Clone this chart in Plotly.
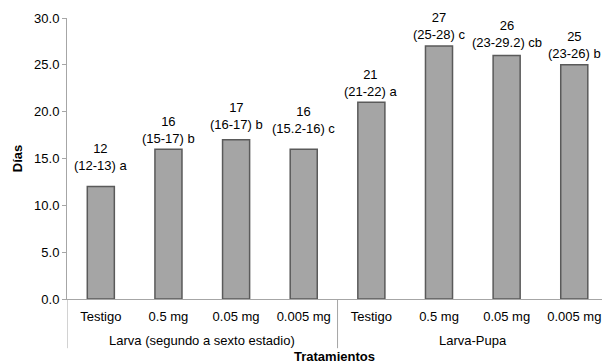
import plotly.graph_objects as go

# ---- data ----
categories = ["Testigo", "0.5 mg", "0.05 mg", "0.005 mg",
              "Testigo", "0.5 mg", "0.05 mg", "0.005 mg"]
groups = ["Larva (segundo a sexto estadio)", "Larva-Pupa"]
group_sizes = [4, 4]
dias = [12, 16, 17, 16, 21, 27, 26, 25]
ranges = ["(12-13)", "(15-17)", "(16-17)", "(15.2-16)",
          "(21-22)", "(25-28)", "(23-29.2)", "(23-26)"]
letters = ["a", "b", "b", "c", "a", "c", "cb", "b"]
y_ticks = [0, 5, 10, 15, 20, 25, 30]

# ---- styling ----
label_lift = [12, 1, 6, 11, 1, 2, 3, 2]   # px offsets of value labels (as placed in the source)
FONT = "Liberation Sans, Arial, sans-serif"
AXIS_COLOR = "#A6A6A6"

x = list(range(len(categories)))

fig = go.Figure()
fig.add_trace(go.Bar(
    x=x, y=dias, width=0.4,
    marker=dict(color="#A5A5A5", line=dict(color="#5A5A5A", width=1.5)),
    hoverinfo="skip", cliponaxis=False,
))

annotations = []
for i, (v, r, l) in enumerate(zip(dias, ranges, letters)):
    annotations.append(dict(
        x=x[i], y=v, xref="x", yref="y",
        text=f"{v}<br>{r} {l}", showarrow=False,
        yanchor="bottom", yshift=label_lift[i],
        font=dict(family=FONT, size=13, color="#000000"),
    ))

# group labels and separators
start = 0
shapes = []
for g, n in zip(groups, group_sizes):
    center = start + (n - 1) / 2
    annotations.append(dict(
        x=center, y=-0.148, xref="x", yref="paper",
        text=g, showarrow=False, yanchor="middle",
        font=dict(family=FONT, size=13, color="#000000"),
    ))
    b = start - 0.5
    shapes.append(dict(type="line", xref="x", yref="paper",
                       x0=b, x1=b, y0=0, y1=-0.175,
                       line=dict(color=AXIS_COLOR, width=1)))
    start += n

annotations.append(dict(
    x=0.5, y=-0.203, xref="paper", yref="paper",
    text="<b>Tratamientos</b>", showarrow=False, yanchor="middle",
    font=dict(family=FONT, size=13, color="#000000"),
))

fig.update_layout(
    width=602, height=364,
    margin=dict(l=67, r=0, t=18, b=65, autoexpand=False),
    plot_bgcolor="white", paper_bgcolor="white",
    showlegend=False,
    annotations=annotations,
    shapes=shapes,
)
fig.update_xaxes(
    range=[-0.5, 7.41], automargin=False,
    tickvals=x, ticktext=categories,
    showgrid=False, zeroline=False,
    showline=True, linecolor=AXIS_COLOR, linewidth=1,
    ticks="", ticklabelstandoff=5,
    tickfont=dict(family=FONT, size=13, color="#000000"),
)
fig.update_yaxes(
    range=[0, 30], automargin=False,
    tickvals=y_ticks, ticktext=[f"{t:.1f}" for t in y_ticks],
    showgrid=False, zeroline=False,
    showline=True, linecolor=AXIS_COLOR, linewidth=1,
    ticks="outside", ticklen=4, tickcolor=AXIS_COLOR,
    ticklabelstandoff=0,
    tickfont=dict(family=FONT, size=13, color="#000000"),
    title=dict(text="<b>Días</b>", standoff=8,
               font=dict(family=FONT, size=13, color="#000000")),
)

fig.write_html(
    "out.html",
    config={"displayModeBar": False},
    post_script="document.body.style.margin='0';document.body.style.overflow='hidden';",
)
